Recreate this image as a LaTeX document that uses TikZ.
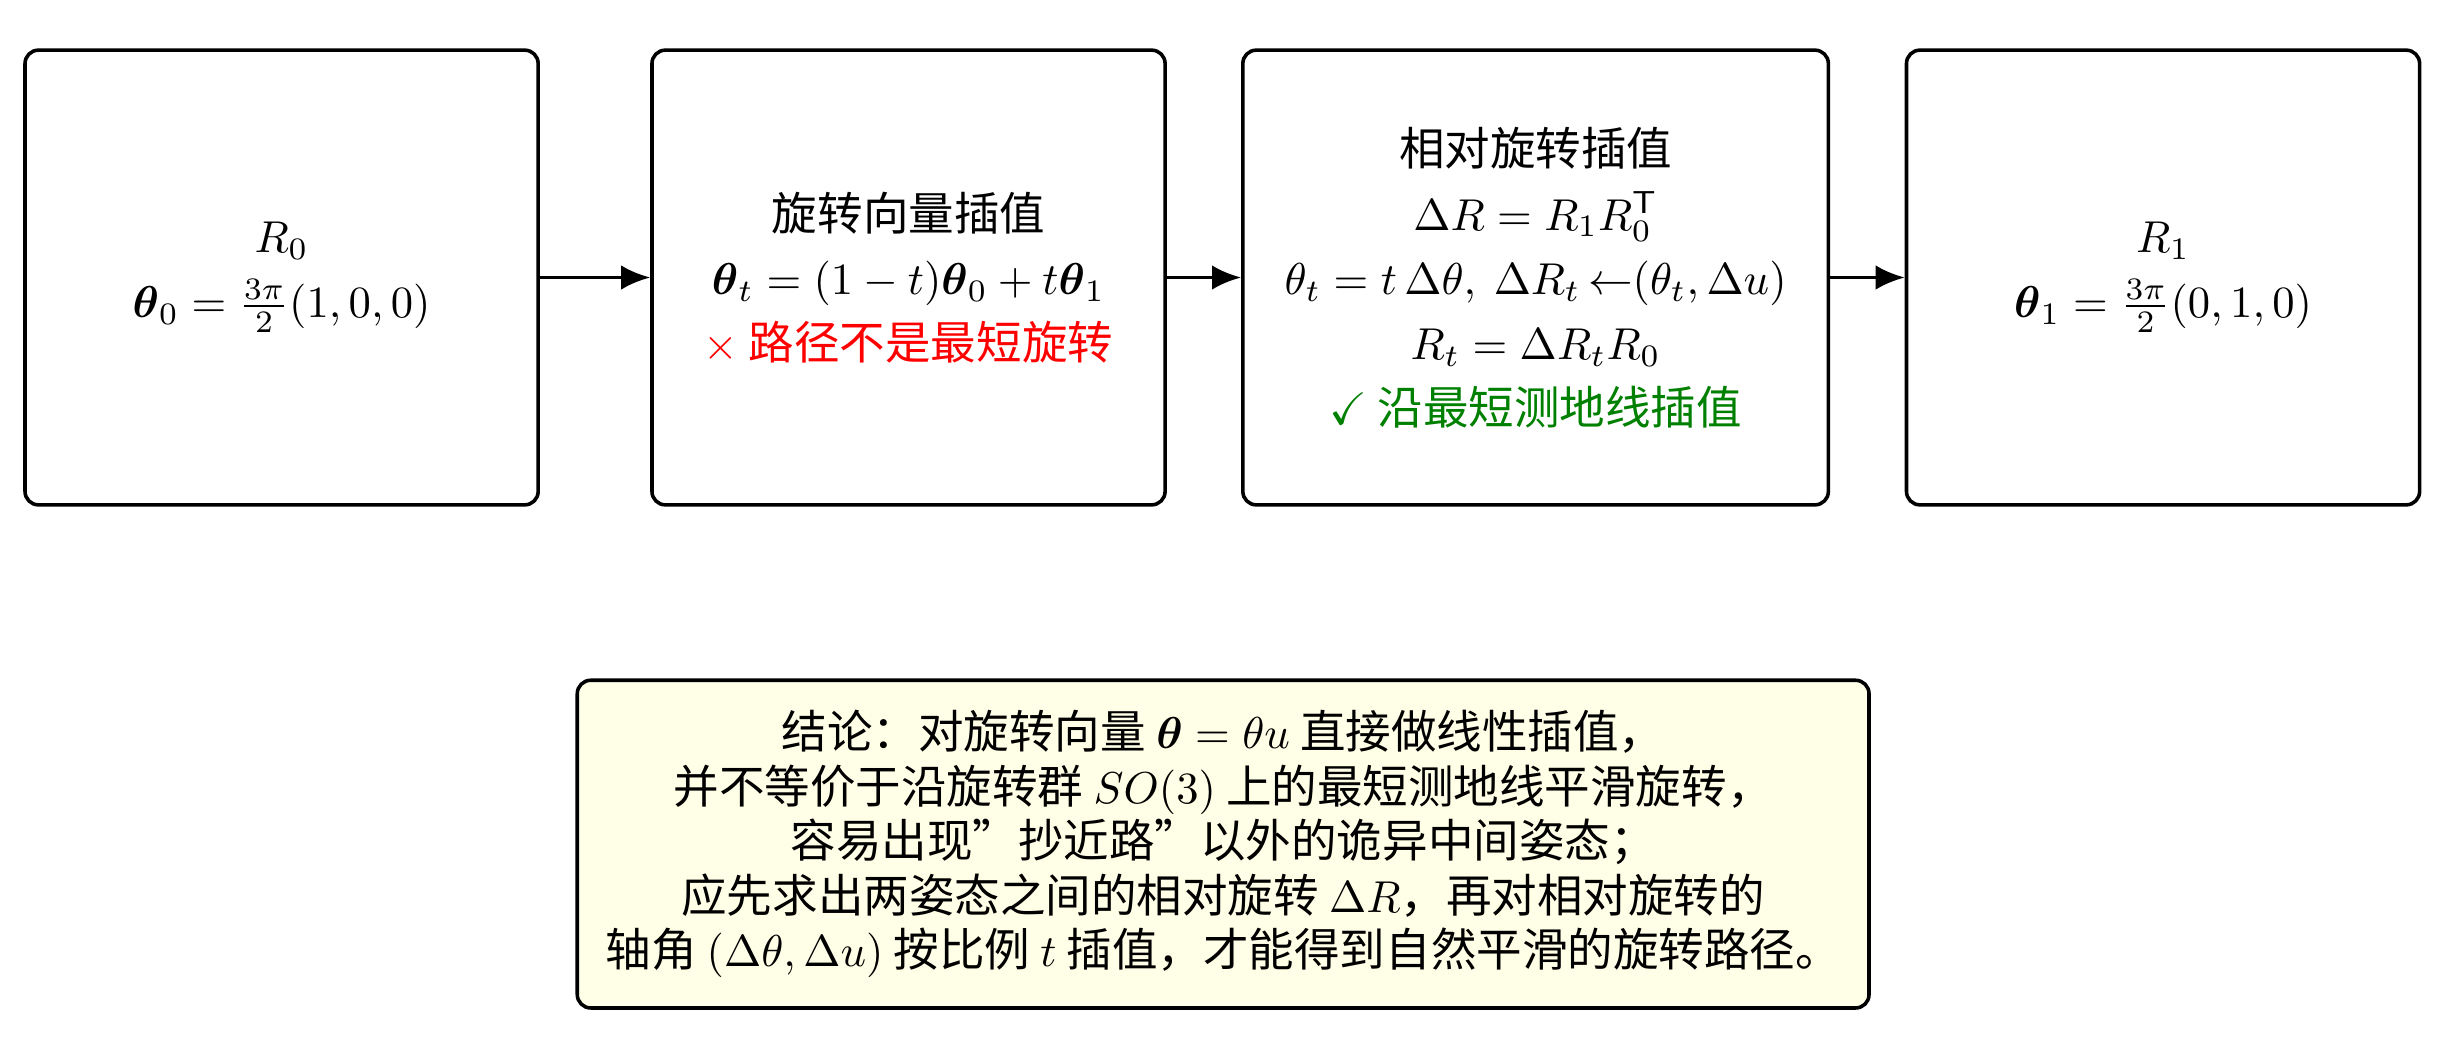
\documentclass[tikz,border=0pt]{standalone}
\usepackage{amsmath}
\usepackage{amssymb}
\usepackage{fontspec}
\setmainfont{Noto Sans CJK SC}
\usetikzlibrary{arrows.meta}

\begin{document}
\begin{tikzpicture}
    \tikzstyle{every node}+=[font=\fontsize{10.2}{14.5}\selectfont]
    \tikzstyle{stage}=[draw=black, thick, rounded corners=3pt, align=center, minimum width=4.04cm, minimum height=3.58cm]
    \tikzstyle{flow}=[-{Latex[length=6.5pt,width=5.5pt]}, thick]
    \useasboundingbox (0,0) rectangle (19.36,8.29);
    \node [stage] (start) at (2.217,6.105) {$R_0$\\ $\boldsymbol{\theta}_0=\frac{3\pi}{2}(1,0,0)$};
    \node [stage] (naive) at (7.153,6.105) {旋转向量插值\\ $\boldsymbol{\theta}_t=(1-t)\boldsymbol{\theta}_0+t\boldsymbol{\theta}_1$\\ \textcolor{red}{$\times$ 路径不是最短旋转}};
    \node [stage, minimum width=4.61cm] (relative) at (12.09,6.105) {相对旋转插值\\ $\Delta R=R_1R_0^{\mathsf{T}}$\\ $\theta_t=t\,\Delta\theta,\ \Delta R_t\,{\leftarrow}(\theta_t,\Delta u)$\\ $R_t=\Delta R_tR_0$\\ \textcolor{green!50!black}{$\checkmark$ 沿最短测地线插值}};
    \node [stage] (goal) at (17.03,6.105) {$R_1$\\ $\boldsymbol{\theta}_1=\frac{3\pi}{2}(0,1,0)$};
    \draw [flow] (start) -- (naive);
    \draw [flow] (naive) -- (relative);
    \draw [flow] (relative) -- (goal);
    \node [draw=black, thick, rounded corners=3pt, fill=yellow!10, align=center, minimum width=10.17cm, minimum height=2.58cm, font=\fontsize{10.2}{12.2}\selectfont] (summary) at (9.63,1.644) {结论：对旋转向量 $\boldsymbol{\theta}=\theta u$ 直接做线性插值，\\ 并不等价于沿旋转群 $SO(3)$ 上的最短测地线平滑旋转，\\ 容易出现”抄近路”以外的诡异中间姿态；\\ 应先求出两姿态之间的相对旋转 $\Delta R$，再对相对旋转的\\ 轴角 $(\Delta\theta,\Delta u)$ 按比例 $t$ 插值，才能得到自然平滑的旋转路径。};
\end{tikzpicture}
\end{document}
